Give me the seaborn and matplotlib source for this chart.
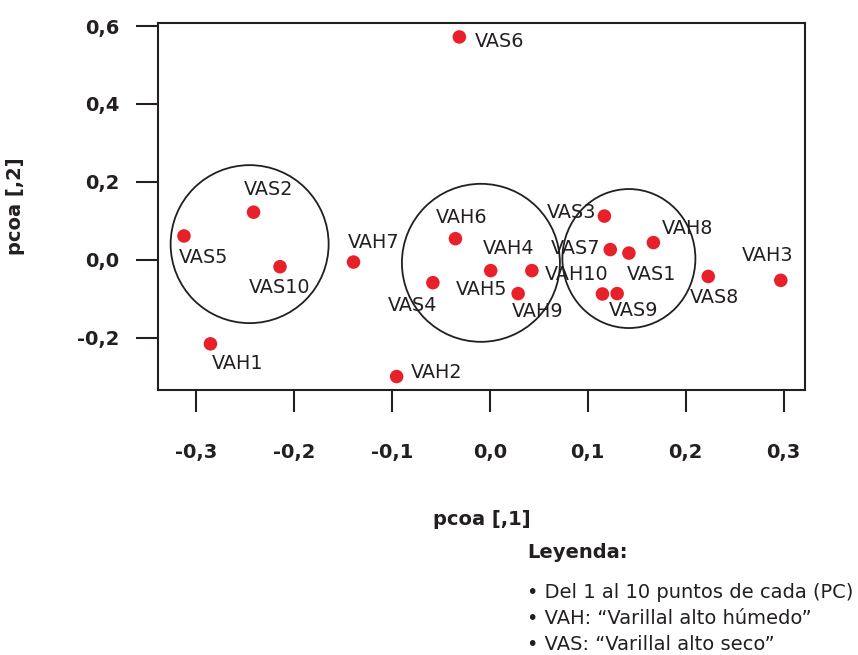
import matplotlib
matplotlib.use("Agg")
import matplotlib.pyplot as plt
from matplotlib.patches import Ellipse
import seaborn as sns
import pandas as pd

# PCoA scores
labels = ["VAS5", "VAS2", "VAS10", "VAH7", "VAH1", "VAH2", "VAS4", "VAS6", "VAH6", "VAH5",
          "VAH4", "VAH9", "VAH10", "VAS9", "VAS3", "VAS7", "VAS1", "VAH8", "VAS8", "VAH3"]
pc1 = [-0.312, -0.241, -0.214, -0.139, -0.285, -0.095, -0.058, -0.031, -0.035, 0.001,
       0.043, 0.029, 0.115, 0.130, 0.117, 0.123, 0.142, 0.167, 0.223, 0.297]
pc2 = [0.061, 0.122, -0.018, -0.006, -0.216, -0.300, -0.059, 0.572, 0.054, -0.028,
       -0.028, -0.087, -0.088, -0.087, 0.112, 0.026, 0.017, 0.044, -0.043, -0.053]

# label offsets in pixels (x right, y up)
label_dx = [19, 15, 0, 20, 27, 40, -20, 40, 6, -9, -23, 20, -26, 16, -33, -35, 23, 34, 6, -13]
label_dy = [-22, 23, -21, 20, -20, 4, -23, -5, 21, -19, 22, -18, 19, -17, 4, 1, -21, 14, -21, 25]

# group circles (center x, center y, radius in px)
circle_x = [-0.245, -0.009, 0.142]
circle_y = [0.040, -0.008, 0.003]
circle_rx = [79, 79, 66.5]
circle_ry = [79, 79, 69.5]

x_ticks = [-0.3, -0.2, -0.1, 0.0, 0.1, 0.2, 0.3]
y_ticks = [-0.2, 0.0, 0.2, 0.4, 0.6]

legend_lines = ["\u2022 Del 1 al 10 puntos de cada (PC)",
                "\u2022 VAH: \u201cVarillal alto h\u00famedo\u201d",
                "\u2022 VAS: \u201cVarillal alto seco\u201d"]

dark = "#231f20"
red = "#e8202a"

sns.set_style("white")
plt.rcParams["font.family"] = ["DejaVu Sans"]

df = pd.DataFrame({"pc1": pc1, "pc2": pc2, "label": labels})

fig = plt.figure(figsize=(8.58, 6.55), dpi=100)
ax = fig.add_axes([158 / 858, 1 - 390 / 655, 647 / 858, 367.3 / 655])

sns.scatterplot(data=df, x="pc1", y="pc2", color=red, s=95, edgecolor="none", ax=ax, zorder=3)

xmin, xmax = -0.3385, 0.3217
ymin, ymax = -0.3345, 0.6085
ax.set_xlim(xmin, xmax)
ax.set_ylim(ymin, ymax)

# circles are round on screen, so convert pixel radius to data units
px_x = 647 / (xmax - xmin)
px_y = 367.3 / (ymax - ymin)
for cx, cy, rx, ry in zip(circle_x, circle_y, circle_rx, circle_ry):
    ax.add_patch(Ellipse((cx, cy), 2 * rx / px_x, 2 * ry / px_y, fill=False,
                         edgecolor=dark, lw=1.3, zorder=2))

for x, y, t, dx, dy in zip(pc1, pc2, labels, label_dx, label_dy):
    ax.annotate(t, (x, y), xytext=(dx, dy), textcoords="offset pixels",
                ha="center", va="center", fontsize=13.8, color=dark)

for s in ax.spines.values():
    s.set_color(dark)
    s.set_linewidth(1.5)

ax.set_xticks(x_ticks)
ax.set_yticks(y_ticks)
ax.set_xticklabels([f"{v:.1f}".replace(".", ",") for v in x_ticks])
ax.set_yticklabels([f"{v:.1f}".replace(".", ",") for v in y_ticks])
ax.tick_params(axis="both", direction="out", length=16, width=1.5, color=dark,
               labelsize=14, labelcolor=dark, bottom=True, left=True)
ax.tick_params(axis="x", pad=22)
ax.tick_params(axis="y", pad=12)
for lab in ax.get_xticklabels() + ax.get_yticklabels():
    lab.set_fontweight("bold")

ax.set_xlabel("pcoa [,1]", fontsize=14, fontweight="bold", color=dark)
ax.set_ylabel("pcoa [,2]", fontsize=14, fontweight="bold", color=dark)
ax.xaxis.set_label_coords(0.5, -0.327)
ax.yaxis.set_label_coords(-0.205, 0.5)

fig.text(527 / 858, 1 - 552 / 655, "Leyenda:", fontsize=14, fontweight="bold",
         color=dark, va="center", ha="left")
for i, line in enumerate(legend_lines):
    fig.text(527 / 858, 1 - (592 + 26.5 * i) / 655, line, fontsize=14, color=dark,
             va="center", ha="left")

fig.savefig("out.png", dpi=100)
plt.close(fig)
